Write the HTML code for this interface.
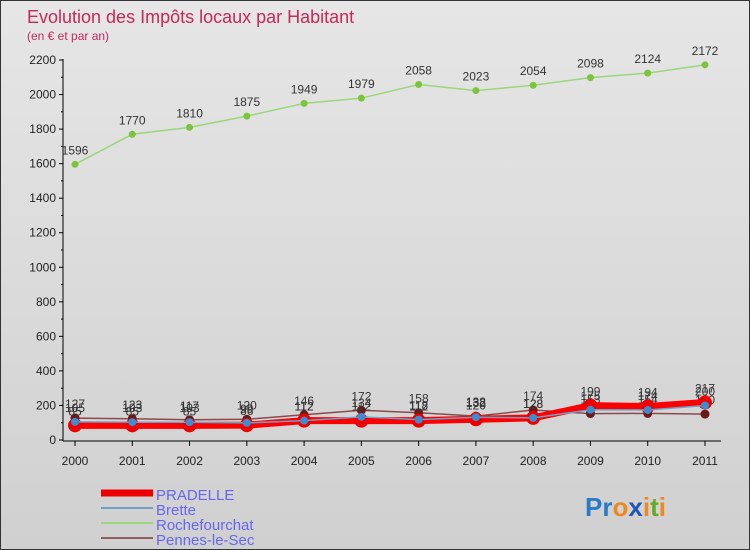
<!DOCTYPE html>
<html><head><meta charset="utf-8"><style>
body{margin:0}
#wrap{width:748px;height:548px;border:1px solid #333;background:linear-gradient(#e6e6e6,#d0d0d0);position:relative;font-family:"Liberation Sans",sans-serif;overflow:hidden}
</style></head><body>
<div id="wrap">
<svg id="chart" width="748" height="548"></svg>
</div>
<script>
const years=["2000","2001","2002","2003","2004","2005","2006","2007","2008","2009","2010","2011"];
const yTicks=[0,200,400,600,800,1000,1200,1400,1600,1800,2000,2200];
const pradelle=[85,85,85,86,112,112,112,120,128,199,194,217];
const brette=[105,103,103,99,112,134,118,132,128,175,174,200];
const rochefourchat=[1596,1770,1810,1875,1949,1979,2058,2023,2054,2098,2124,2172];
const pennes=[127,123,117,120,146,172,158,138,174,153,154,150];
const NS="http://www.w3.org/2000/svg";
const svg=document.getElementById('chart');
const x=i=>74+i*(630/11);
const y=v=>439-v*380/2200;
function el(t,a,p){const e=document.createElementNS(NS,t);for(const k in a)e.setAttribute(k,a[k]);(p||svg).appendChild(e);return e;}
function txt(s,a){const e=el('text',a);e.textContent=s;return e;}
const t1=txt("Evolution des Impôts locaux par Habitant",{x:26,y:22,fill:"#c8285a","font-size":18});


const t2=txt("(en € et par an)",{x:26,y:39,fill:"#c8285a","font-size":12});


const ax=el('line',{x1:62,y1:58,x2:62,y2:440,stroke:"#000"});


const bx=el('line',{x1:62,y1:440,x2:720,y2:440,stroke:"#000"});


yTicks.forEach(v=>{
 el('line',{x1:58,y1:y(v),x2:62,y2:y(v),stroke:"#000"});
 if(v<2200) el('line',{x1:60,y1:y(v+100),x2:62,y2:y(v+100),stroke:"#000"});
 const t=txt(String(v),{x:55,y:y(v)+4,"text-anchor":"end","font-size":12,fill:"#222"});
 
 
});
years.forEach((yr,i)=>{
 el('line',{x1:x(i),y1:440,x2:x(i),y2:445,stroke:"#000"});
 const t=txt(yr,{x:x(i),y:464,"text-anchor":"middle","font-size":12,fill:"#222"});
 
 
});
function series(data,name,color,w,dotFill,r){
 const g=el('g',{});
 
 
 const l=el('polyline',{points:data.map((v,i)=>x(i)+","+y(v)).join(" "),fill:"none",stroke:color,"stroke-width":w},g);
 
 
 data.forEach((v,i)=>{
  const c=el('circle',{cx:x(i),cy:y(v),r:r,fill:dotFill},g);
  
  
  const t=txt(String(v),{x:x(i),y:y(v)-10,"text-anchor":"middle","font-size":12,fill:"#333"});
  
  
 });
}
series(rochefourchat,"rochefourchat","#9ad77a",1.5,"#7cc43c",3.5);
series(pennes,"pennes-le-sec","#8b4a4a",1.5,"#6b1a1a",4.5);
series(pradelle,"pradelle","#ff0000",7,"#ee0000",7);
series(brette,"brette","#6fa0c8",1.5,"#3b8fd0",4);
const legend=[["PRADELLE","#ee0000",7],["Brette","#6fa0c8",2],["Rochefourchat","#9ad77a",2],["Pennes-le-Sec","#8b6060",2]];
legend.forEach((L,i)=>{
 const yy=492+i*15;
 const ln=el('line',{x1:100,y1:yy,x2:152,y2:yy,stroke:L[1],"stroke-width":L[2]});
 
 
 const t=txt(L[0],{x:155,y:yy+7,fill:"#6666ee","font-size":15});
 
 
});
const logo=el('text',{x:584,y:515,"font-size":26,"font-weight":"bold"});


[["P","#2a7ac8"],["r","#2a7ac8"],["o","#ee8822"],["x","#2255bb"],["i","#ee8822"],["t","#66aa22"],["i","#ee8822"]].forEach(p=>{const s=el('tspan',{fill:p[1]},logo);s.textContent=p[0];});
</script>
</body></html>
